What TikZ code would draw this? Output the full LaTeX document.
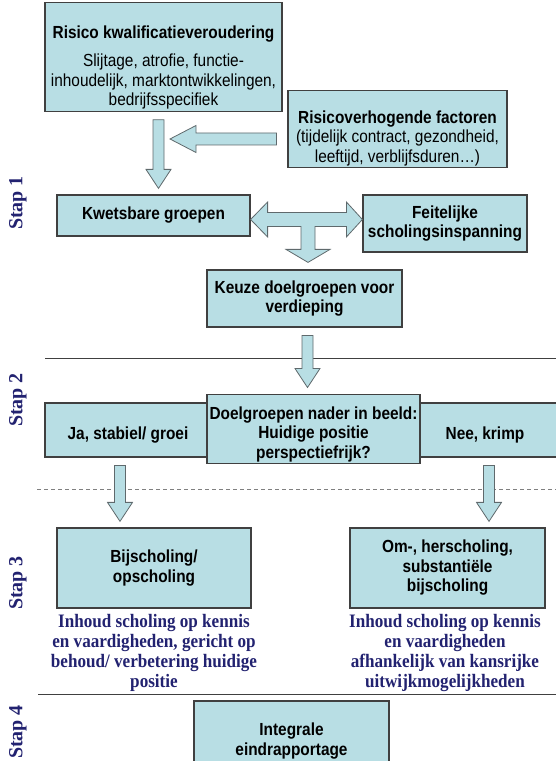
\documentclass[tikz,border=0pt]{standalone}
\usepackage{fontspec}
\setmainfont{Liberation Serif}
\setsansfont{Liberation Sans}[FakeStretch=0.88]
\newfontfamily\notefont{Liberation Serif}[FakeStretch=0.9]
\usepackage{tikz}
\usetikzlibrary{calc}

\definecolor{boxfill}{RGB}{184,222,228}
\definecolor{boxline}{RGB}{64,64,64}
\definecolor{arrowline}{RGB}{95,105,108}
\definecolor{navy}{RGB}{34,34,112}

% block arrow pointing down: #1 x position, #2 node above, #3 node below
\newcommand{\blockdown}[3]{%
  \draw[blockarrow] let \p1=(#2.south), \p2=(#3.north) in
    (#1pt-5.5pt,\y1-8pt) -- (#1pt+5.5pt,\y1-8pt) -- (#1pt+5.5pt,\y2+25pt)
    -- (#1pt+12.5pt,\y2+25pt) -- (#1pt,\y2+6pt) -- (#1pt-12.5pt,\y2+25pt)
    -- (#1pt-5.5pt,\y2+25pt) -- cycle;}

\begin{document}
\begin{tikzpicture}[x=1pt, y=1pt,
	box/.style={draw=boxline, line width=1.2pt, fill=boxfill, inner sep=2pt, align=center, font=\sffamily\bfseries\fontsize{17.5}{19.5}\selectfont},
	blockarrow/.style={draw=arrowline, line width=0.8pt, fill=boxfill, line join=miter},
	steplabel/.style={rotate=90, text=navy, inner sep=0, font=\bfseries\fontsize{20}{24}\selectfont},
	note/.style={align=center, text=navy, inner sep=0, font=\notefont\bfseries\fontsize{19}{20}\selectfont},
	divider/.style={draw=boxline, line width=0.8pt}
]
\useasboundingbox (0,0) rectangle (556,761);
\clip (0,0) rectangle (556,761);
% stap 1
\node[box, minimum width=237, minimum height=100] (risk) at (163.5,704) {\strut\\Risico kwalificatieveroudering\\[9pt]\mdseries Slijtage, atrofie, functie-\\\mdseries inhoudelijk, marktontwikkelingen,\\\mdseries bedrijfsspecifiek};
\node[box, minimum width=219, minimum height=68] (factors) at (397.5,632) {\strut\\[-2pt]Risicoverhogende factoren\\\mdseries (tijdelijk contract, gezondheid,\\\mdseries leeftijd, verblijfsduren…)};
\node[box, minimum width=193, minimum height=41] (vuln) at (153.5,545.5) {Kwetsbare groepen};
\node[box, minimum width=164, minimum height=57] (actual) at (445,537.5) {Feitelijke\\scholingsinspanning};
\node[box, minimum width=195, minimum height=57] (choice) at (304.5,462.5) {Keuze doelgroepen voor\\verdieping};
% stap 2
\node[box, minimum width=166, minimum height=54] (yes) at (128,331) {\strut\\[-10pt]Ja, stabiel/ groei};
\node[box, minimum width=146, minimum height=54] (no) at (485,331) {\strut\\[-10pt]Nee, krimp};
\node[box, minimum width=213, minimum height=68] (middle) at (313.5,332) {\strut\\[-10pt]Doelgroepen nader in beeld:\\Huidige positie\\perspectiefrijk?};
% stap 3
\node[box, minimum width=194, minimum height=80] (upskill) at (154,193) {Bijscholing/\\opscholing};
\node[box, minimum width=195, minimum height=80] (reskill) at (447.5,193) {Om-, herscholing,\\substantiële\\bijscholing};
\node[note] (upnote) at (154,108) {Inhoud scholing op kennis\\en vaardigheden, gericht op\\behoud/ verbetering huidige\\positie};
\node[note] (renote) at (445,108) {Inhoud scholing op kennis\\en vaardigheden\\afhankelijk van kansrijke\\uitwijkmogelijkheden};
% stap 4
\node[box, minimum width=195, minimum height=80] (report) at (291.5,20) {Integrale\\eindrapportage};

\node[steplabel] (stap1) at (18,558) {Stap 1};
\node[steplabel] (stap2) at (18,361) {Stap 2};
\node[steplabel] (stap3) at (18,178) {Stap 3};
\node[steplabel] (stap4) at (18,29) {Stap 4};

\draw[divider] (45,403) -- (556,403);
\draw[divider, draw=gray, dash pattern=on 4pt off 3pt] (37,272) -- (556,272);
\draw[divider] (38,67) -- (556,67);

\blockdown{158.5}{risk}{vuln}
\draw[blockarrow] let \p1=(factors.west) in (\x1-11pt,628pt) -- (196pt,628pt) -- (196pt,635.5pt) -- (170pt,622pt) -- (196pt,608.5pt) -- (196pt,616pt) -- (\x1-11pt,616pt) -- cycle;
\draw[blockarrow] let \p1=(vuln.east), \p2=(actual.west), \p3=(choice.north), \n1={(\y1+\y2)/2} in
	(\x1,\n1) -- (\x1+17pt,\n1+17.5pt) -- (\x1+17pt,\n1+7pt) -- (\x2-16pt,\n1+7pt) -- (\x2-16pt,\n1+17.5pt)
	-- (\x2,\n1) -- (\x2-16pt,\n1-17.5pt) -- (\x2-16pt,\n1-7pt) -- (\x3+10.5pt,\n1-7pt) -- (\x3+10.5pt,\y3+20pt)
	-- (\x3+25.5pt,\y3+20pt) -- (\x3+3.5pt,\y3+7pt) -- (\x3-18.5pt,\y3+20pt) -- (\x3-3.5pt,\y3+20pt)
	-- (\x3-3.5pt,\n1-7pt) -- (\x1+17pt,\n1-7pt) -- (\x1+17pt,\n1-17.5pt) -- cycle;
\blockdown{307.5}{choice}{middle}
\blockdown{120}{yes}{upskill}
\blockdown{489}{no}{reskill}
\end{tikzpicture}
\end{document}
